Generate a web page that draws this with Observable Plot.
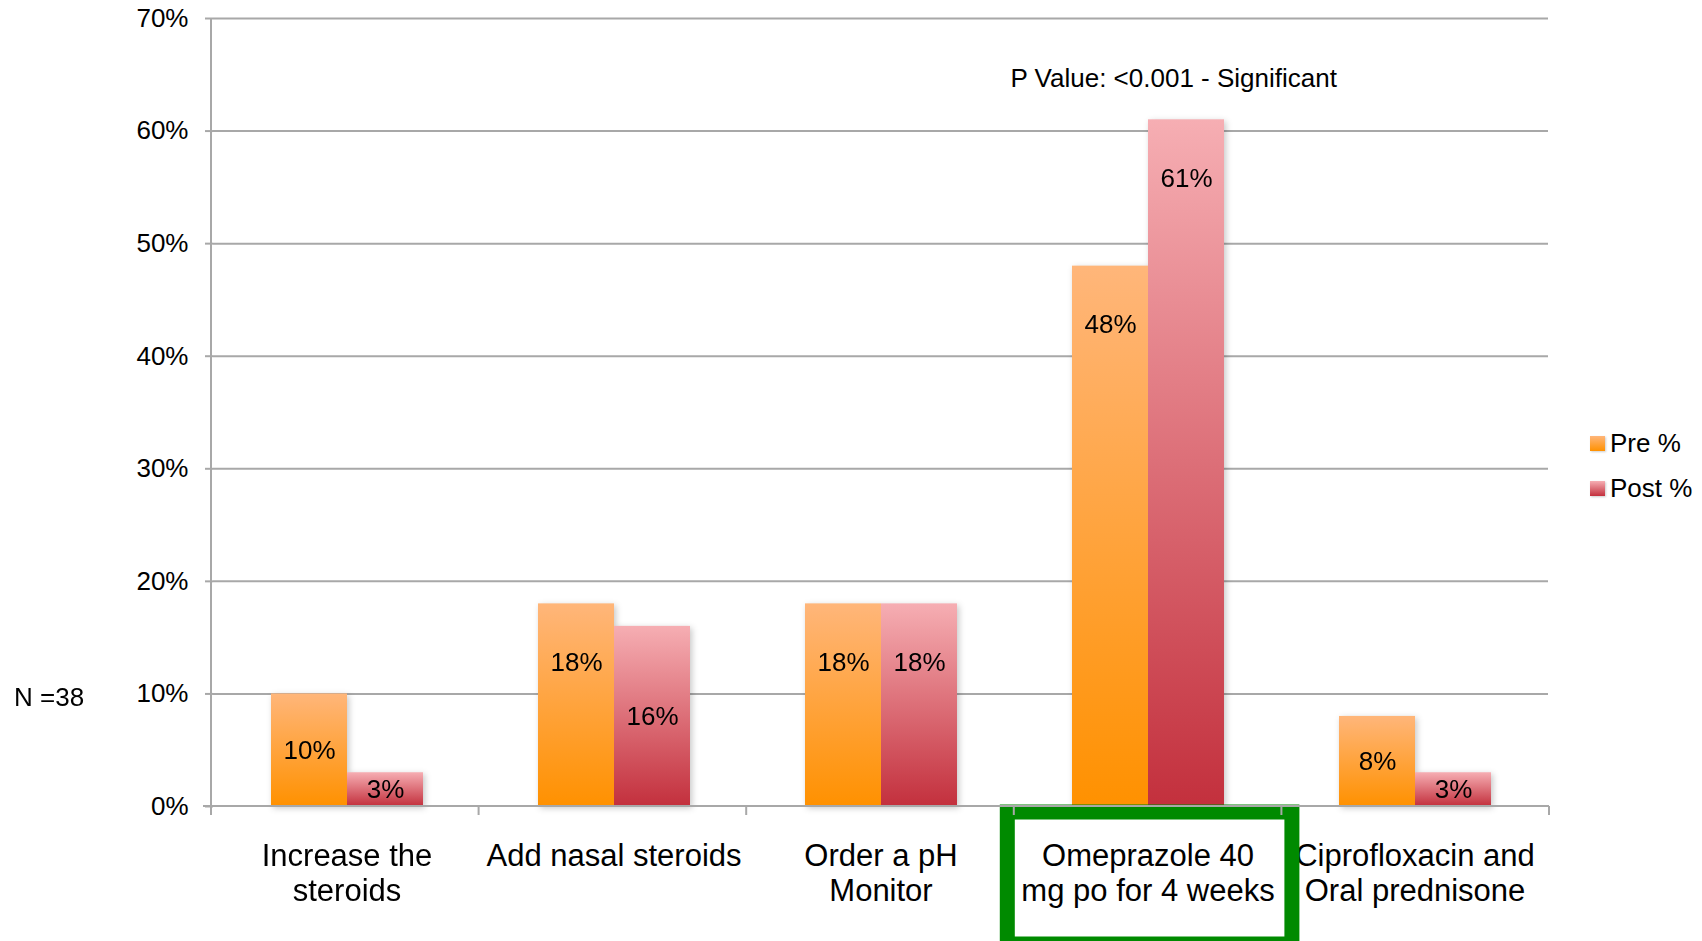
<!DOCTYPE html>
<html>
<head>
<meta charset="utf-8">
<script src="https://cdn.jsdelivr.net/npm/d3@7"></script>
<script src="https://cdn.jsdelivr.net/npm/@observablehq/plot@0.6"></script>
<style>
  html, body { margin: 0; padding: 0; background: #fff; }
  #chart { position: relative; width: 1702px; height: 941px; overflow: hidden;
           font-family: "Liberation Sans", Arial, Helvetica, sans-serif; }
  #legend { position: absolute; left: 1590px; top: 421px; font-size: 26px; color: #000; }
  .item { display: flex; align-items: center; height: 45px; }
  .sw { width: 15px; height: 15px; margin-right: 5px; box-shadow: 1px 1px 2px rgba(0,0,0,0.2); }
</style>
</head>
<body>
<div id="chart"><div id="legend"></div></div>
<script>
// Treatment choices, before and after the session (percent of respondents)
const categories = [
  "Increase the steroids",
  "Add nasal steroids",
  "Order a pH Monitor",
  "Omeprazole 40 mg po for 4 weeks",
  "Ciprofloxacin and Oral prednisone"
];
const categoryLabels = [
  "Increase the\nsteroids",
  "Add nasal steroids",
  "Order a pH\nMonitor",
  "Omeprazole 40\nmg po for 4 weeks",
  "Ciprofloxacin and\nOral prednisone"
];
const seriesNames = ["Pre %", "Post %"];
const preValues = [10, 18, 18, 48, 8];
const postValues = [3, 16, 18, 61, 3];
const yTicks = [0, 10, 20, 30, 40, 50, 60, 70];
const highlighted = categories[3];
const pValueNote = "P Value: <0.001 - Significant";
const sampleNote = "N =38";

// Colour ramps for the two series (top colour, bottom colour)
const gradients = [
  {id: "gradPre", top: "#ffb67a", bottom: "#ff9100"},
  {id: "gradPost", top: "#f6aeb3", bottom: "#c3303d"}
];

const rows = [];
categories.forEach((c, i) => {
  rows.push({category: c, series: seriesNames[0], value: preValues[i]});
  rows.push({category: c, series: seriesNames[1], value: postValues[i]});
});

// Value labels sit mid-bar on short bars and just under the top on tall ones
const labelY = d => (d.value >= 17 ? d.value - 5.2 : d.value / 2);

const font = `"Liberation Sans", Arial, Helvetica, sans-serif`;
const gridColor = "#a8a8a8";

const plot = Plot.plot({
  width: 1702,
  height: 941,
  marginLeft: 211,
  marginRight: 153,
  marginTop: 18,
  marginBottom: 135,
  style: {fontFamily: font, color: "#000", background: "#fff", overflow: "visible"},
  fx: {domain: categories, padding: 0, axis: null},
  x: {domain: seriesNames, paddingInner: 0, paddingOuter: 0.737, axis: null},
  y: {domain: [0, 70]},
  color: {type: "ordinal", domain: seriesNames, range: gradients.map(g => `url(#${g.id})`)},
  marks: [
    Plot.ruleY(yTicks.filter(t => t > 0), {stroke: gridColor, strokeWidth: 2}),
    Plot.axisY({
      ticks: yTicks, tickSize: 8, tickPadding: 17, stroke: gridColor, strokeWidth: 2,
      tickFormat: d => d + "%", fontSize: 26, label: null, fill: "#000"
    }),
    Plot.barY(rows, {fx: "category", x: "series", y: "value", fill: "series"}),
    Plot.text(rows, {
      fx: "category", x: "series", y: labelY,
      text: d => d.value + "%",
      fontSize: 26, fill: "#000"
    }),
    Plot.text(categories, {
      fx: d => d, text: (d, i) => categoryLabels[i],
      frameAnchor: "bottom", lineAnchor: "top", dy: 35,
      fontSize: 31, lineHeight: 1.13, fill: "#000"
    }),
    Plot.text([pValueNote], {
      fx: () => highlighted, text: d => d,
      frameAnchor: "top-left", textAnchor: "start", lineAnchor: "middle",
      dx: -4, dy: 60, fontSize: 26, fill: "#000"
    })
  ]
});

const ns = "http://www.w3.org/2000/svg";
const defs = document.createElementNS(ns, "defs");
gradients.forEach(g => {
  const lg = document.createElementNS(ns, "linearGradient");
  lg.setAttribute("id", g.id);
  lg.setAttribute("x1", "0"); lg.setAttribute("y1", "0");
  lg.setAttribute("x2", "0"); lg.setAttribute("y2", "1");
  [[0, g.top], [1, g.bottom]].forEach(([o, c]) => {
    const s = document.createElementNS(ns, "stop");
    s.setAttribute("offset", o);
    s.setAttribute("stop-color", c);
    lg.appendChild(s);
  });
  defs.appendChild(lg);
});
plot.insertBefore(defs, plot.firstChild);

// Soft shadow under the bars
plot.querySelectorAll('g[aria-label="bar"]').forEach(g => {
  g.style.filter = "drop-shadow(2px 2px 3px rgba(0,0,0,0.22))";
});

// Scales for the highlight box and axis frame
const fxs = plot.scale("fx");
const ys = plot.scale("y");
const bx = d3.scaleBand().domain(fxs.domain).range(fxs.range)
  .paddingInner(fxs.paddingInner ?? 0).paddingOuter(fxs.paddingOuter ?? 0).align(fxs.align ?? 0.5);
const yl = d3.scaleLinear().domain(ys.domain).range(ys.range);
const y0 = yl(0);
const left = bx(categories[0]);
const right = bx(categories[categories.length - 1]) + bx.bandwidth();

const svg = d3.select(plot);
// Green highlight around the recommended treatment
svg.append("rect")
  .attr("x", bx(highlighted) - 6.5)
  .attr("y", y0 + 6)
  .attr("width", bx.bandwidth() + 17)
  .attr("height", 132)
  .attr("fill", "none")
  .attr("stroke", "#008a00")
  .attr("stroke-width", 15);

// Category axis line with ticks at the group boundaries, plus vertical axis line
const frame = svg.append("g").attr("stroke", gridColor).attr("stroke-width", 2);
frame.append("line").attr("x1", left - 8).attr("x2", right).attr("y1", y0).attr("y2", y0);
frame.append("line").attr("x1", left).attr("x2", left).attr("y1", yl(70)).attr("y2", y0 + 9);
categories.map(c => bx(c)).concat([right]).forEach(x => {
  frame.append("line").attr("x1", x).attr("x2", x).attr("y1", y0).attr("y2", y0 + 9);
});

// Sample size note
svg.append("text")
  .attr("x", 14).attr("y", yl(10) + 13)
  .attr("text-anchor", "start")
  .attr("font-size", 26).attr("font-family", font).attr("fill", "#000")
  .text(sampleNote);

document.getElementById("chart").prepend(plot);

// Legend
const legend = d3.select("#legend");
seriesNames.forEach((name, i) => {
  const item = legend.append("div").attr("class", "item");
  item.append("div").attr("class", "sw")
    .style("background", `linear-gradient(${gradients[i].top}, ${gradients[i].bottom})`);
  item.append("span").text(name);
});
</script>
</body>
</html>
